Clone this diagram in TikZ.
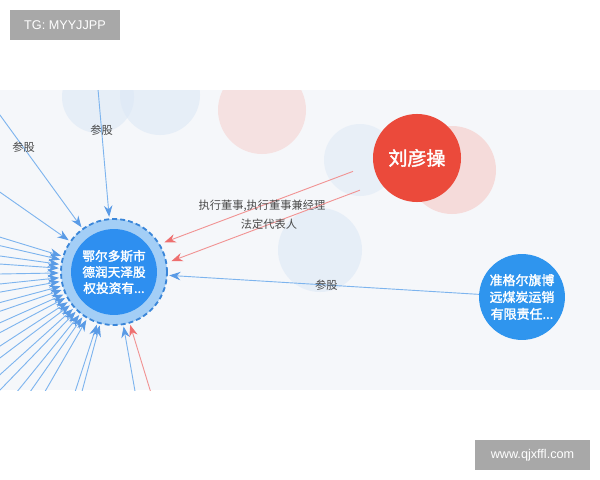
\documentclass[tikz,border=0pt]{standalone}
\usepackage{fontspec}
\setmainfont{Noto Sans CJK SC}[AutoFakeBold=2]
\newfontfamily\lat{Liberation Sans}
\usepackage{xcolor}
\usetikzlibrary{arrows.meta}
\definecolor{bgc}{HTML}{F5F7FA}
\definecolor{lineblue}{HTML}{7DB4EE}
\definecolor{tipblue}{HTML}{5A9BE6}
\definecolor{linered}{HTML}{F19393}
\definecolor{tipred}{HTML}{EE6F6F}
\definecolor{hubblue}{HTML}{2E8FF0}
\definecolor{ringblue}{HTML}{A3CEF6}
\definecolor{dashblue}{HTML}{3A86D9}
\definecolor{liured}{HTML}{EB4A3B}
\definecolor{coalblue}{HTML}{2F95EE}
\definecolor{labgray}{HTML}{4A4A4A}
\definecolor{ghostblue}{HTML}{DCE8F6}
\definecolor{ghostpink}{HTML}{F6D9D7}
\definecolor{boxgray}{HTML}{A8A8A8}

\begin{document}
\begin{tikzpicture}[x=0.025cm,y=-0.025cm,
    bl/.style={draw=lineblue, line width=0.65pt, shorten >=1pt,
      -{Stealth[length=8pt,width=6pt,color=tipblue]}},
    rd/.style={draw=linered, line width=0.65pt,
      -{Stealth[length=8pt,width=6pt,color=tipred]}},
    lab/.style={text=labgray, font=\fontsize{8}{9.5}\selectfont, inner sep=1pt},
    gbox/.style={fill=boxgray, text=white, font=\lat\fontsize{9}{10}\selectfont,
      minimum height=21.3pt, inner sep=0pt}]
				\useasboundingbox (0,0) rectangle (600,480);
				\fill[white] (0,0) rectangle (600,480);
				\begin{scope}
				\clip (0,90) rectangle (600,390);
				\fill[bgc] (0,90) rectangle (600,390);
				% faded nodes in the back
				\fill[ghostblue, opacity=0.6] (98,97) circle (36);
				\fill[ghostblue, opacity=0.6] (160,95) circle (40);
				\fill[ghostpink, opacity=0.7] (262,110) circle (44);
				\fill[ghostblue, opacity=0.5] (360,160) circle (36);
				\fill[ghostblue, opacity=0.6] (320,250) circle (42);
				\fill[ghostpink, opacity=0.9] (452,170) circle (44);
				% main nodes
				\node[circle, fill=ringblue, draw=dashblue, line width=1.3pt,
				  dash pattern=on 3.5pt off 2.2pt, minimum size=75.4pt] (A) at (114,272){};
				\node[circle, fill=hubblue, text=white, minimum size=61.1pt, inner sep=0pt,
				  align=center, font=\bfseries\fontsize{9}{11.4}\selectfont] (B) at (A){鄂尔多斯市\\德润天泽股\\权投资有...};
				\node[circle, fill=coalblue, text=white, minimum size=61.1pt, inner sep=0pt,
				  align=center, font=\bfseries\fontsize{9.2}{12}\selectfont] (C) at (522,297){准格尔旗博\\远煤炭运销\\有限责任...};
				\node[circle, fill=liured, text=white, minimum size=62.6pt, inner sep=0pt,
				  font=\bfseries\fontsize{13.5}{15}\selectfont] (D) at (417,158){刘彦操};
				% edges into the hub
				\coordinate (E) at ([shift={(-95:260)}]A.center);
				\coordinate (F) at ([shift={(-126:260)}]A.center);
				\draw[bl] (E) -- node[lab, pos=0.57]{参股} (A);
				\draw[bl] (F) -- node[lab, pos=0.515]{参股} (A);
				\foreach \a in {145,163,167,172,176,181,186,190,195,199,204,208,213,217,222,226,231,235,240,252,255,280}{
				  \coordinate (G\a) at ([shift={(-\a:260)}]A.center);
				  \draw[bl] (G\a) -- (A);
				}
				\coordinate (H) at ([shift={(-287:260)}]A.center);
				\draw[rd, shorten >=1pt] (H) -- (A);
				\draw[bl] (C) -- node[lab, pos=0.49]{参股} (A);
				\draw[rd, shorten <=46pt, shorten >=41pt] ([shift={(-3.5,-9.4)}]D.center) -- node[lab]{执行董事,执行董事兼经理} ([shift={(-3.5,-9.4)}]A.center);
				\draw[rd, shorten <=46pt, shorten >=41pt] ([shift={(3.5,9.4)}]D.center) -- node[lab]{法定代表人} ([shift={(3.5,9.4)}]A.center);
				\end{scope}
				% tags
				\node[gbox, minimum width=78.2pt] (I) at (65,25){TG: MYYJJPP};
				\node[gbox, minimum width=81.8pt] (J) at (532.5,455){www.qjxffl.com};
\end{tikzpicture}
\end{document}
